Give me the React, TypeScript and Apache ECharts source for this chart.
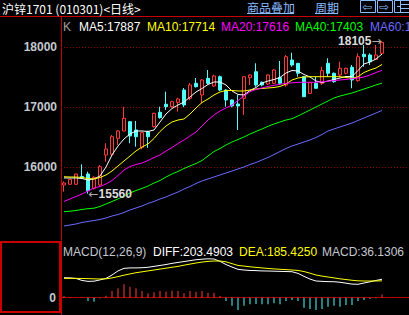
import React, { useEffect, useRef } from "react";
import * as echarts from "echarts";

// ---------- data ----------
const titleText = "沪锌1701 (010301)<日线>";
const slotLabels = Array.from({ length: 58 }, (_, i) => String(i + 1));

// [open, close, low, high]
const candles: number[][] = [
  [15705, 15738, 15593, 15763],
  [15717, 15800, 15712, 15805],
  [15717, 15888, 15710, 15895],
  [15847, 15822, 15805, 16050],
  [15888, 15610, 15560, 15927],
  [15650, 15833, 15630, 15850],
  [15705, 16010, 15672, 16038],
  [16205, 16305, 16093, 16400],
  [16217, 16510, 16188, 16538],
  [16483, 16605, 16372, 16620],
  [16605, 16817, 16600, 17010],
  [16760, 16522, 16400, 16770],
  [16622, 16510, 16343, 16772],
  [16333, 16577, 16300, 16590],
  [16593, 16510, 16322, 16610],
  [16677, 16900, 16660, 16910],
  [16917, 16827, 16810, 17010],
  [17050, 17010, 16955, 17260],
  [17010, 17093, 16995, 17110],
  [17083, 17138, 16927, 17160],
  [17288, 17038, 17000, 17322],
  [17150, 17372, 17120, 17405],
  [17400, 17343, 17330, 17488],
  [17205, 17455, 17067, 17470],
  [17483, 17400, 17380, 17622],
  [17355, 17522, 17340, 17540],
  [17510, 17288, 17270, 17530],
  [17288, 17122, 17010, 17300],
  [17122, 17022, 17000, 17130],
  [17055, 17022, 16622, 17205],
  [17150, 17510, 16872, 17520],
  [17493, 17538, 17372, 17550],
  [17593, 17372, 17343, 17733],
  [17417, 17372, 17350, 17430],
  [17388, 17538, 17370, 17550],
  [17400, 17622, 17390, 17640],
  [17493, 17400, 17372, 17772],
  [17372, 17843, 17343, 17872],
  [17788, 17705, 17677, 17910],
  [17733, 17567, 17510, 17740],
  [17510, 17177, 17170, 17520],
  [17233, 17410, 17225, 17420],
  [17400, 17317, 17305, 17505],
  [17400, 17610, 17372, 17677],
  [17733, 17567, 17510, 17817],
  [17567, 17427, 17410, 17580],
  [17538, 17650, 17510, 17760],
  [17567, 17650, 17550, 17660],
  [17667, 17455, 17317, 17705],
  [17443, 17843, 17427, 17900],
  [17883, 17843, 17677, 18038],
  [17872, 17760, 17705, 17900],
  [17800, 17872, 17788, 18038],
  [17900, 18083, 17872, 18105],
];

const ma5 = [
  15822, 15822, 15822, 15813, 15788, 15805, 15855, 16005, 16205, 16355, 16472, 16555, 16605, 16605,
  16597, 16622, 16755, 16888, 16980, 17038, 17088, 17172, 17255, 17313, 17380, 17422, 17422, 17372,
  17272, 17213, 17205, 17280, 17330, 17405, 17438, 17463, 17497, 17572, 17613, 17605, 17547, 17505,
  17438, 17413, 17438, 17463, 17488, 17513, 17513, 17613, 17722, 17755, 17805, 17887,
];
const ma10 = [
  15843, 15838, 15838, 15830, 15813, 15805, 15830, 15872, 15938, 16022, 16105, 16188, 16272, 16338,
  16388, 16480, 16597, 16688, 16755, 16788, 16805, 16888, 16988, 17080, 17138, 17205, 17255, 17280,
  17280, 17272, 17272, 17288, 17305, 17313, 17322, 17330, 17347, 17388, 17455, 17488, 17505, 17510,
  17510, 17510, 17510, 17510, 17510, 17497, 17483, 17510, 17580, 17622, 17655, 17714,
];
const ma20 = [
  15430, 15472, 15513, 15555, 15605, 15655, 15680, 15722, 15780, 15863, 15955, 16013, 16047, 16072,
  16113, 16163, 16205, 16272, 16330, 16397, 16455, 16522, 16588, 16688, 16788, 16872, 16938, 16988,
  17038, 17113, 17188, 17260, 17297, 17322, 17347, 17367, 17383, 17400, 17408, 17415, 17417, 17417,
  17417, 17425, 17435, 17445, 17455, 17465, 17477, 17488, 17505, 17538, 17580, 17616,
];
const ma40 = [
  15260, 15268, 15280, 15297, 15310, 15318, 15347, 15388, 15430, 15472, 15522, 15572, 15613, 15647,
  15688, 15738, 15780, 15838, 15888, 15930, 15980, 16022, 16063, 16113, 16188, 16263, 16313, 16372,
  16422, 16463, 16505, 16555, 16597, 16638, 16683, 16722, 16755, 16788, 16810, 16855, 16905, 16955,
  17005, 17055, 17105, 17155, 17188, 17213, 17238, 17272, 17305, 17338, 17372, 17403,
];
const ma60 = [
  15022, 15038, 15055, 15080, 15097, 15113, 15130, 15155, 15188, 15213, 15247, 15288, 15322, 15355,
  15397, 15430, 15472, 15505, 15547, 15588, 15638, 15680, 15730, 15772, 15805, 15838, 15872, 15905,
  15938, 15972, 16005, 16047, 16080, 16122, 16163, 16213, 16263, 16313, 16355, 16388, 16422, 16455,
  16497, 16547, 16605, 16638, 16672, 16705, 16738, 16780, 16822, 16863, 16905, 16947,
];

const diff = [
  220, 218, 212, 190, 180, 182, 196, 213, 250, 295, 323, 328, 328, 330, 335, 345, 355, 365, 378, 388,
  398, 408, 418, 424, 428, 426, 400, 365, 338, 312, 305, 300, 298, 295, 294, 292, 290, 288, 286, 268,
  235, 205, 184, 180, 177, 176, 170, 160, 150, 148, 162, 175, 190, 203.4903,
];
const dea = [
  213, 213, 213, 212, 210, 208, 206, 208, 218, 232, 248, 262, 275, 285, 295, 305, 315, 325, 335, 345,
  358, 370, 382, 392, 400, 404, 404, 395, 375, 355, 348, 340, 334, 328, 322, 317, 313, 309, 305, 300,
  288, 270, 250, 238, 228, 218, 208, 200, 192, 186, 184, 184, 185, 185.425,
];
const macdBars = [
  19, 8, 3, -3, -36, -44, -5, 22, 73, 103, 147, 121, 103, 73, 48, 59, 73, 66, 77, 73, 48, 73, 66, 73,
  55, 55, 19, -36, -88, -136, -88, -73, -70, -73, -73, -62, -73, -36, -26, -36, -110, -125, -136,
  -125, -99, -88, -99, -81, -81, -36, -26, -11, -6, 36.1306,
];

const priceTicks = [16000, 17000, 18000];
const macdTicks = [0];
const maNames = ["MA5", "MA10", "MA20", "MA40", "MA60"];
const maLast = [17887, 17714, 17616, 17403, 16947];
const macdLegend = ["MACD(12,26,9)", "DIFF:203.4903", "DEA:185.4250", "MACD:36.1306"];
const highMark = { index: 53, value: 18105 };
const lowMark = { index: 4, value: 15560 };

// ---------- styles ----------
const BG = "#000000";
const RED_LINE = "#c80000";
const GRID_DOT = "#900000";
const UP = "#ff3c3c";
const DOWN = "#54fcfc";
const AXIS_TXT = "#c4c8d0";
const LINK = "#8cbcff";
const FONT = '"Liberation Sans", Arial, sans-serif';
const CJK = '"Noto Sans CJK SC", "Noto Sans", sans-serif';
const maColors = ["#ffffff", "#ffff00", "#ff00ff", "#00ff00", "#6a6aff"];
const maLegendX = [79, 147, 221, 295, 370];
const macdLegendColors = ["#c4c8d0", "#ffffff", "#ffff00", "#c4c8d0"];
const macdLegendX = [63, 153, 239, 322];

function txt(text: string, x: number, y: number, fill: string, extra: any = {}) {
  return {
    type: "text",
    silent: true,
    style: {
      text,
      x,
      y,
      fill,
      fontSize: 12,
      fontFamily: FONT,
      verticalAlign: "middle",
      align: "left",
      ...extra,
    },
  };
}

function buildOption(): any {
  const maSeries = [ma5, ma10, ma20, ma40, ma60].map((d, i) => ({
    name: maNames[i],
    type: "line",
    xAxisIndex: 0,
    yAxisIndex: 0,
    data: d,
    symbol: "none",
    z: 4,
    lineStyle: { color: maColors[i], width: 1 },
  }));

  const graphics: any[] = [
    { type: "line", silent: true, shape: { x1: 0, y1: 16.5, x2: 409, y2: 16.5 }, style: { stroke: RED_LINE, lineWidth: 1 } },
    { type: "rect", silent: true, shape: { x: 1, y: 242, width: 59, height: 70 }, style: { fill: "none", stroke: RED_LINE, lineWidth: 2 } },
    txt(titleText, 2, 8.5, "#ffffff", { fontFamily: CJK }),
    txt("商品叠加", 247, 7.5, LINK, { fontFamily: CJK }),
    { type: "line", silent: true, shape: { x1: 247, y1: 13.5, x2: 294, y2: 13.5 }, style: { stroke: LINK, lineWidth: 1 } },
    txt("周期", 315, 7.5, LINK, { fontFamily: CJK }),
    { type: "line", silent: true, shape: { x1: 315, y1: 13.5, x2: 338, y2: 13.5 }, style: { stroke: LINK, lineWidth: 1 } },
    { type: "rect", silent: true, shape: { x: 360.5, y: 0.5, width: 15, height: 12 }, style: { fill: "none", stroke: LINK, lineWidth: 1 } },
    txt("⇦", 362, 7, LINK, { fontFamily: '"DejaVu Sans"', fontSize: 12 }),
    { type: "rect", silent: true, shape: { x: 377.5, y: 0.5, width: 15, height: 12 }, style: { fill: "none", stroke: LINK, lineWidth: 1 } },
    txt("⇨", 379, 7, LINK, { fontFamily: '"DejaVu Sans"', fontSize: 12 }),
    { type: "rect", silent: true, shape: { x: 394.5, y: 0.5, width: 15, height: 12 }, style: { fill: "none", stroke: LINK, lineWidth: 1 } },
    { type: "line", silent: true, shape: { x1: 400.5, y1: 1, x2: 400.5, y2: 12 }, style: { stroke: LINK, lineWidth: 1 } },
    { type: "line", silent: true, shape: { x1: 397, y1: 6.5, x2: 400, y2: 6.5 }, style: { stroke: LINK, lineWidth: 1 } },
    { type: "line", silent: true, shape: { x1: 401, y1: 4.5, x2: 409, y2: 4.5 }, style: { stroke: LINK, lineWidth: 1 } },
    { type: "line", silent: true, shape: { x1: 401, y1: 8.5, x2: 409, y2: 8.5 }, style: { stroke: LINK, lineWidth: 1 } },
    txt("K", 63, 26.5, "#a0a0a0"),
  ];
  maNames.forEach((n, i) => graphics.push(txt(`${n}:${maLast[i]}`, maLegendX[i], 26.5, maColors[i])));
  macdLegend.forEach((t, i) => graphics.push(txt(t, macdLegendX[i], 251.5, macdLegendColors[i])));

  return {
    animation: false,
    backgroundColor: BG,
    grid: [
      { left: 61, top: 17, width: 348, height: 223 },
      { left: 61, top: 241, width: 348, height: 74 },
    ],
    xAxis: [
      { type: "category", gridIndex: 0, data: slotLabels, boundaryGap: true, show: false },
      {
        type: "category",
        gridIndex: 1,
        data: slotLabels,
        boundaryGap: true,
        position: "top",
        axisLine: { show: true, lineStyle: { color: RED_LINE, width: 1 } },
        axisTick: { show: false },
        axisLabel: { show: false },
        splitLine: { show: false },
      },
    ],
    yAxis: [
      {
        type: "value",
        gridIndex: 0,
        min: 14788,
        max: 18505,
        axisLine: { show: true, lineStyle: { color: RED_LINE, width: 1 } },
        axisTick: { show: false },
        splitLine: { show: false },
        axisLabel: {
          customValues: priceTicks,
          formatter: (v: number) => String(v),
          color: AXIS_TXT,
          fontWeight: "bold",
          fontSize: 12,
          fontFamily: FONT,
          margin: 4,
        },
      },
      {
        type: "value",
        gridIndex: 1,
        min: -190,
        max: 624,
        axisLine: { show: true, lineStyle: { color: RED_LINE, width: 1 } },
        axisTick: { show: false },
        splitLine: { show: false },
        axisLabel: {
          customValues: macdTicks,
          formatter: (v: number) => String(v),
          color: AXIS_TXT,
          fontWeight: "bold",
          fontSize: 12,
          fontFamily: FONT,
          margin: 5,
        },
      },
    ],
    series: [
      {
        type: "candlestick",
        xAxisIndex: 0,
        yAxisIndex: 0,
        data: candles,
        barWidth: 4,
        z: 3,
        itemStyle: { color: BG, color0: DOWN, borderColor: UP, borderColor0: DOWN, borderWidth: 1 },
        markLine: {
          silent: true,
          z: 1,
          symbol: ["none", "none"],
          label: { show: false },
          lineStyle: { color: GRID_DOT, type: [1, 2], width: 1 },
          data: priceTicks.map((v) => ({ yAxis: v })),
        },
        markPoint: {
          silent: true,
          symbol: "circle",
          symbolSize: 1,
          itemStyle: { color: "rgba(0,0,0,0)" },
          data: [
            {
              coord: [highMark.index, highMark.value],
              value: highMark.value,
              label: {
                show: true,
                position: "left",
                distance: 0,
                formatter: `{v|${highMark.value}}{a|→}`,
                rich: {
                  v: { color: "#dcdcdc", fontWeight: "bold", fontSize: 12, fontFamily: FONT },
                  a: { color: "#b0b0b0", fontSize: 12, fontFamily: '"DejaVu Sans"' },
                },
              },
            },
            {
              coord: [lowMark.index, lowMark.value],
              value: lowMark.value,
              label: {
                show: true,
                position: "right",
                distance: 0,
                formatter: `{a|←}{v|${lowMark.value}}`,
                rich: {
                  v: { color: "#dcdcdc", fontWeight: "bold", fontSize: 12, fontFamily: FONT },
                  a: { color: "#b0b0b0", fontSize: 12, fontFamily: '"DejaVu Sans"' },
                },
              },
            },
          ],
        },
      },
      ...maSeries,
      {
        type: "bar",
        xAxisIndex: 1,
        yAxisIndex: 1,
        data: macdBars,
        barWidth: 1,
        z: 3,
        itemStyle: { color: (p: any) => (p.value >= 0 ? UP : DOWN) },
        markLine: {
          silent: true,
          z: 1,
          symbol: ["none", "none"],
          label: { show: false },
          lineStyle: { color: GRID_DOT, type: [1, 2], width: 1 },
          data: macdTicks.map((v) => ({ yAxis: v })),
        },
      },
      {
        type: "line",
        xAxisIndex: 1,
        yAxisIndex: 1,
        data: diff,
        symbol: "none",
        z: 4,
        lineStyle: { color: "#ffffff", width: 1 },
      },
      {
        type: "line",
        xAxisIndex: 1,
        yAxisIndex: 1,
        data: dea,
        symbol: "none",
        z: 4,
        lineStyle: { color: "#ffff00", width: 1 },
      },
    ],
    graphic: graphics,
  };
}

export default function App() {
  const ref = useRef<HTMLDivElement>(null);
  useEffect(() => {
    if (!ref.current) return;
    const chart = echarts.init(ref.current, null, { renderer: "svg" });
    chart.setOption(buildOption());
    return () => chart.dispose();
  }, []);
  return (
    <div
      ref={ref}
      style={{ position: "fixed", left: 0, top: 0, width: 409, height: 315, background: BG }}
    />
  );
}
